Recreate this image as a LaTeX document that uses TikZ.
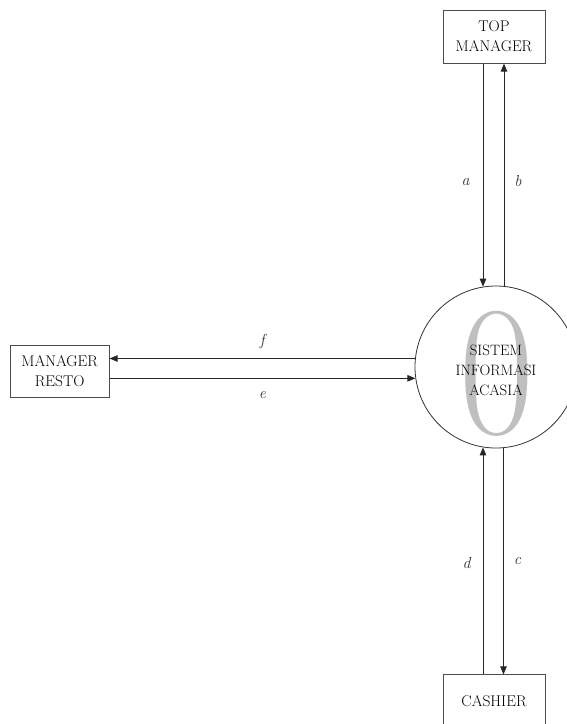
\documentclass[tikz,border=0pt]{standalone}
\usetikzlibrary{arrows.meta,positioning}

\begin{document}
\begin{tikzpicture}[
  x=1pt, y=1pt,
  >={Triangle[length=8pt,width=6.5pt]},
  entity/.style={draw=black!70, line width=0.8pt, align=center, inner sep=0pt, minimum width=102pt, minimum height=53pt, font=\fontsize{15.5}{20}\selectfont},
  process/.style={circle, draw=black!80, line width=0.8pt, inner sep=0pt, minimum size=162pt},
  proctext/.style={align=center, inner sep=0pt, yshift=-3pt, font=\fontsize{15}{20}\selectfont},
  bigzero/.style={text=black!25, inner sep=0pt, font=\fontsize{185}{185}\selectfont},
  flow/.style={->, line width=0.9pt, black!85},
  lbl/.style={inner sep=0pt, text=black!80, font=\fontsize{16}{18}\selectfont\itshape}
]

\useasboundingbox (0,0) rectangle (566,-724);

\node[bigzero] (zero) at (497,-373.5) {\scalebox{0.88}[1]{0}};
\node[process, label={[proctext, name=systext]center:SISTEM\\INFORMASI\\ACASIA}] (sys) at (496,-367) {};

\node[entity, above=222pt of sys, xshift=-2pt] (top) {TOP\\MANAGER};
\node[entity, left=305pt of sys, yshift=-4pt, minimum width=99pt, minimum height=52pt] (resto) {MANAGER\\RESTO};
\node[entity, below=226pt of sys, xshift=-2pt] (cashier) {CASHIER};

% top manager
\draw[flow] ([xshift=-11pt]top.south) -- ([xshift=-11pt]top.south |- sys.99)
  node[lbl, pos=.53, left=13pt] {a};
\draw[flow] ([xshift=10pt]top.south |- sys.84) -- ([xshift=10pt]top.south)
  node[lbl, pos=.47, right=10pt] {b};

% manager resto
\draw[flow] (sys.174) -- (resto.east |- sys.174)
  node[lbl, midway, above=9pt] {f};
\draw[flow] (resto.east |- sys.188.5) -- (sys.188.5)
  node[lbl, midway, below=12.5pt] {e};

% cashier
\draw[flow] ([xshift=-11pt]cashier.north) -- ([xshift=-11pt]cashier.north |- sys.261)
  node[lbl, pos=.49, left=12pt] {d};
\draw[flow] ([xshift=9.5pt]cashier.north |- sys.276) -- ([xshift=9.5pt]cashier.north)
  node[lbl, midway, right=10pt] {c};

\end{tikzpicture}
\end{document}
